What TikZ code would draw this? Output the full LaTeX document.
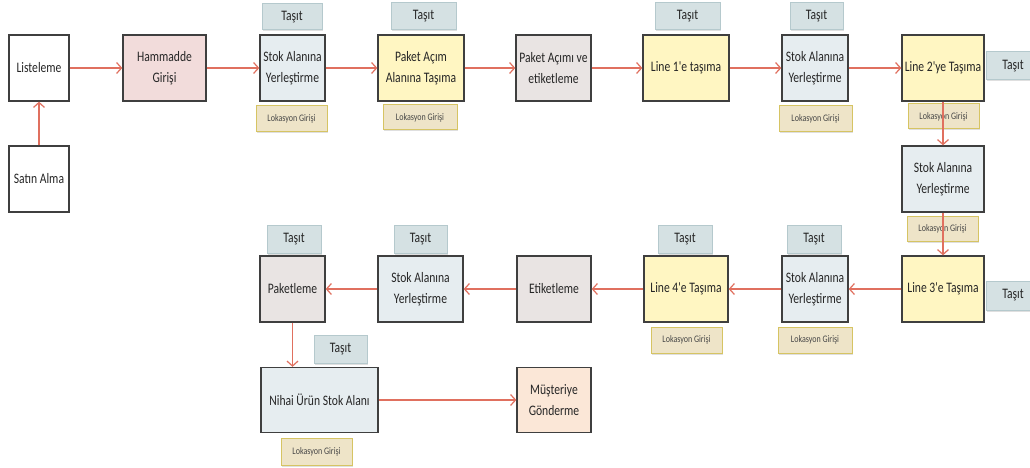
\documentclass[tikz,border=0pt]{standalone}
\usepackage{fontspec}
\setmainfont{Carlito}
\newfontfamily\narrowfont[FakeStretch=0.8]{Carlito}
\usetikzlibrary{arrows.meta,shadows}
\definecolor{arr}{HTML}{E0705F}
\definecolor{bord}{HTML}{3F3F3F}
\definecolor{cpink}{HTML}{F2DCDB}
\definecolor{cstok}{HTML}{E6EDF0}
\definecolor{cyel}{HTML}{FFF6C2}
\definecolor{cgray}{HTML}{E9E4E3}
\definecolor{cpeach}{HTML}{FBE7D7}
\definecolor{ctasit}{HTML}{D5E1E3}
\definecolor{ctasitb}{HTML}{B5C9CD}
\definecolor{clok}{HTML}{EEE4C8}
\definecolor{clokb}{HTML}{D6C463}
\definecolor{txt}{HTML}{262626}
\tikzset{
  proc/.style={draw=bord, line width=1.3pt, inner sep=0pt, align=center,
    font=\narrowfont\fontsize{14.5}{21.5}\selectfont, text=txt},
  tasitbox/.style={draw=ctasitb, fill=ctasit, line width=1pt, inner sep=0pt,
    font=\narrowfont\fontsize{14.5}{15}\selectfont, text=txt,
    drop shadow={opacity=0.25, shadow xshift=1pt, shadow yshift=-1.5pt}},
  lokbox/.style={draw=clokb, fill=clok, line width=1pt, inner sep=0pt,
    font=\narrowfont\fontsize{10}{10}\selectfont, text=txt!85,
    drop shadow={opacity=0.25, shadow xshift=1pt, shadow yshift=-1.5pt}},
  flow/.style={draw=arr, line width=1.4pt, -{Straight Barb[length=5pt,width=11pt,line width=1.2pt]}},
}
\newcommand{\bx}[7]{\node[#1, minimum width=#4pt, minimum height=#5pt#6] (#7) at (#2,#3)}
\begin{document}
\begin{tikzpicture}[x=1pt,y=-1pt]
\useasboundingbox (0,0) rectangle (1030,468);
\fill[white] (0,0) rectangle (1030,468);
\clip (0,0) rectangle (1030,468);
% top row
\bx{proc}{39}{68}{60}{66}{,fill=white}{list} {Listeleme};
\bx{proc}{39}{179}{60}{66}{,fill=white}{satin} {Satın Alma};
\bx{proc}{164.5}{68}{83}{66}{,fill=cpink}{ham} {Hammadde\\Girişi};
\bx{proc}{292.5}{68}{65}{66}{,fill=cstok}{stok1} {Stok Alanına\\Yerleştirme};
\bx{tasitbox}{292}{17}{60}{26}{}{t1} {Taşıt};
\bx{lokbox}{291.5}{119}{71}{26}{}{l1} {Lokasyon Girişi};
\bx{proc}{421}{68}{86}{66}{,fill=cyel}{pak} {Paket Açım\\Alanına Taşıma};
\bx{tasitbox}{423.5}{16.5}{65}{27}{}{t2} {Taşıt};
\bx{lokbox}{420}{117.5}{74}{25}{}{l2} {Lokasyon Girişi};
\bx{proc}{553.5}{68}{75}{66}{,fill=cgray}{pae} {Paket Açımı ve\\etiketleme};
\bx{proc}{686}{68}{86}{66}{,fill=cyel}{line1} {Line 1'e taşıma};
\bx{tasitbox}{687.5}{16.5}{65}{27}{}{t3} {Taşıt};
\bx{proc}{815}{68}{66}{66}{,fill=cstok}{stok2} {Stok Alanına\\Yerleştirme};
\bx{tasitbox}{816.5}{16.5}{53}{27}{}{t4} {Taşıt};
\bx{lokbox}{815.5}{119}{73}{26}{}{l3} {Lokasyon Girişi};
\bx{proc}{943}{68}{82}{66}{,fill=cyel}{line2} {Line 2'ye Taşıma};
\bx{tasitbox}{1013}{66}{54}{28}{}{t5} {Taşıt};
\bx{lokbox}{943.5}{116.5}{71}{25}{}{l4} {Lokasyon Girişi};
% right column
\bx{proc}{943}{179}{82}{66}{,fill=cstok}{stok3} {Stok Alanına\\Yerleştirme};
\bx{lokbox}{942.5}{228.5}{71}{25}{}{l5} {Lokasyon Girişi};
\bx{proc}{943}{289}{82}{66}{,fill=cyel}{line3} {Line 3'e Taşıma};
\bx{tasitbox}{1013}{295.5}{54}{29}{}{t6} {Taşıt};
% bottom row
\bx{proc}{815}{289}{66}{66}{,fill=cstok}{stok4} {Stok Alanına\\Yerleştirme};
\bx{tasitbox}{814}{239}{54}{28}{}{t7} {Taşıt};
\bx{lokbox}{815}{340}{74}{26}{}{l6} {Lokasyon Girişi};
\bx{proc}{686}{289}{84}{66}{,fill=cyel}{line4} {Line 4'e Taşıma};
\bx{tasitbox}{685}{239}{54}{28}{}{t8} {Taşıt};
\bx{lokbox}{686.5}{340}{71}{26}{}{l7} {Lokasyon Girişi};
\bx{proc}{554}{289}{74}{66}{,fill=cgray}{etik} {Etiketleme};
\bx{proc}{420.5}{289}{85}{66}{,fill=cstok}{stok5} {Stok Alanına\\Yerleştirme};
\bx{tasitbox}{420.5}{239}{53}{28}{}{t9} {Taşıt};
\bx{proc}{292.5}{289}{65}{66}{,fill=cgray}{paket} {Paketleme};
\bx{tasitbox}{294}{239}{54}{28}{}{t10} {Taşıt};
\bx{proc}{319.5}{400}{117}{65}{,fill=cstok}{nihai} {Nihai Ürün Stok Alanı};
\bx{tasitbox}{340.5}{349}{53}{28}{}{t11} {Taşıt};
\bx{lokbox}{316.5}{451.5}{71}{27}{}{l8} {Lokasyon Girişi};
\bx{proc}{554}{400}{74}{65}{,fill=cpeach}{mus} {Müşteriye\\Gönderme};
% connectors
\draw[flow] (satin) -- (list);
\draw[flow] (list) -- (ham);
\draw[flow] (ham) -- (stok1);
\draw[flow] (stok1) -- (pak);
\draw[flow] (pak) -- (pae);
\draw[flow] (pae) -- (line1);
\draw[flow] (line1) -- (stok2);
\draw[flow] (stok2) -- (line2);
\draw[flow] (line2) -- (stok3);
\draw[flow] (stok3) -- (line3);
\draw[flow] (line3) -- (stok4);
\draw[flow] (stok4) -- (line4);
\draw[flow] (line4) -- (etik);
\draw[flow] (etik) -- (stok5);
\draw[flow] (stok5) -- (paket);
\draw[flow] (paket.south) -- (paket.south |- nihai.north);
\draw[flow] (nihai) -- (mus);
\end{tikzpicture}
\end{document}
